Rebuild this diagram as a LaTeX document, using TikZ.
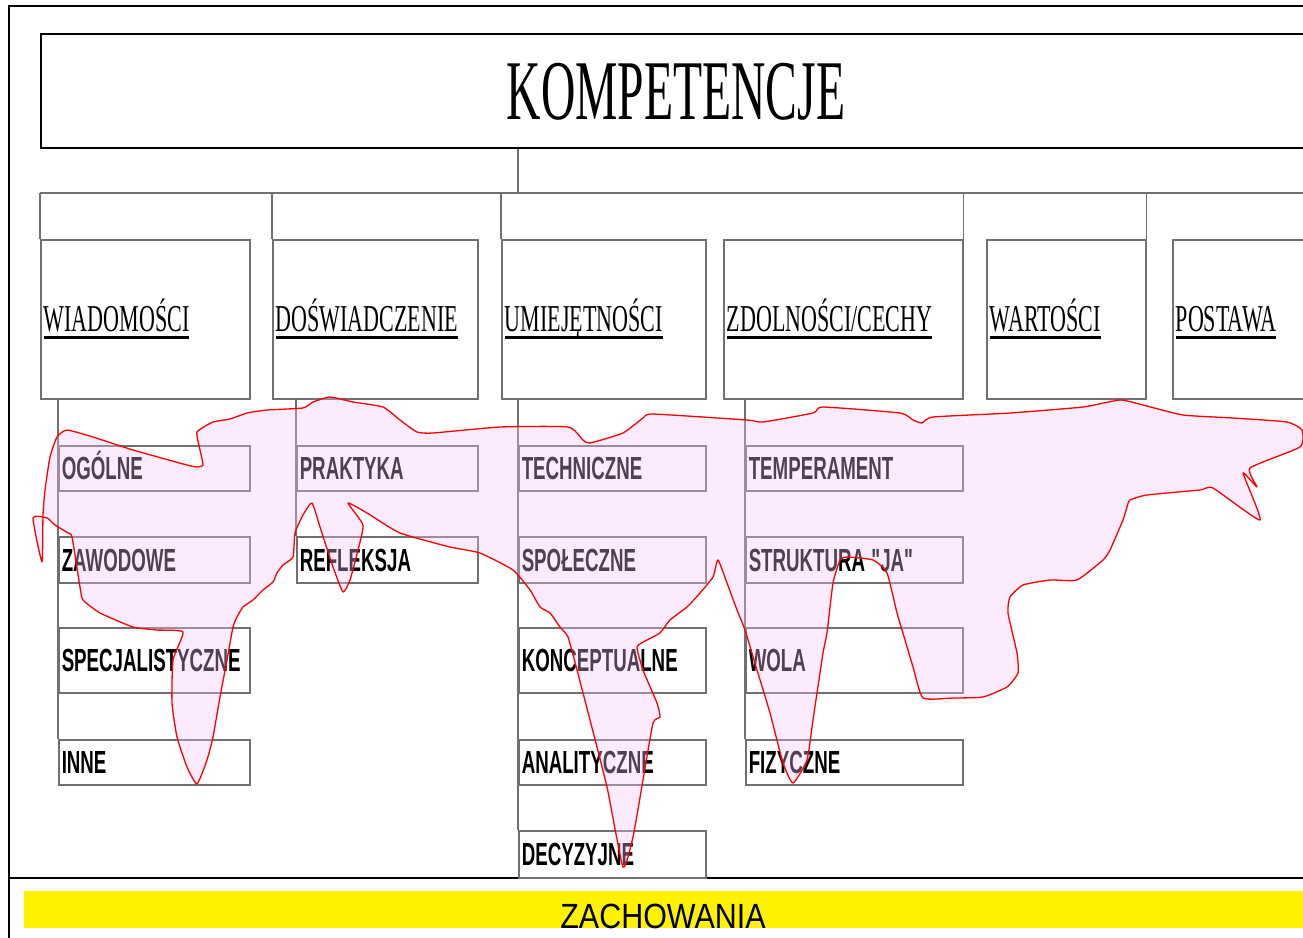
\documentclass[tikz,border=0pt]{standalone}
\usepackage{fontspec}
\usepackage{graphicx}
\setmainfont{Liberation Serif}
\newfontfamily\sansf{Liberation Sans}
\definecolor{boxgray}{RGB}{112,112,112}
\definecolor{blobfill}{RGB}{246,197,246}
\newsavebox\ulbox
\newcommand\hdtext[1]{\sbox\ulbox{#1}\rlap{\rule[-7.5pt]{\wd\ulbox}{3pt}}\usebox\ulbox}
\newcommand\hdn[1]{\scalebox{0.58}[1]{\hdtext{#1}}}
\newcommand\nar[1]{\scalebox{0.585}[1]{#1}}
\begin{document}
\begin{tikzpicture}[x=1pt,y=-1pt,
  conn/.style={draw=boxgray, line width=1.5pt},
  head/.style={draw=boxgray, line width=1.5pt, anchor=north west, inner sep=0pt, inner xsep=3pt,
    minimum height=159pt, align=left, text height=25pt, text depth=0pt,
    font=\fontsize{38}{40}\selectfont},
  sub/.style={draw=boxgray, line width=1.5pt, anchor=north west, inner sep=0pt, inner xsep=3pt,
    align=left, text height=23pt, text depth=0pt,
    font=\sansf\bfseries\fontsize{32}{34}\selectfont},
  blob/.style={draw=red, line width=1.3pt, fill=blobfill, fill opacity=0.33, line join=round}
]
\useasboundingbox (0,0) rectangle (1303,937);
\clip (0,0) rectangle (1303,937);
\fill[white] (0,0) rectangle (1303,937);

% outer frame
\draw[line width=2pt] (9,940) -- (9,6) -- (1310,6);
\draw[line width=2pt] (9,878) -- (1310,878);

% title
\node[draw=black, line width=2pt, anchor=north west, minimum width=1270pt, minimum height=114pt,
  inner sep=0pt, text height=56pt, text depth=0pt, font=\fontsize{85}{90}\selectfont]
  (title) at (40,33) {\scalebox{0.56}[1]{KOMPETENCJE}};

% headings
\node[head, text width=203pt] (wiad) at (40,239) {\hdn{WIADOMOŚCI}};
\node[head, text width=199pt] (dosw) at (272,239) {\hdn{DOŚWIADCZENIE}};
\node[head, text width=198pt] (umie) at (501,239) {\hdn{UMIEJĘTNOŚCI}};
\node[head, text width=233pt] (zdol) at (723,239) {\hdn{ZDOLNOŚCI/CECHY}};
\node[head, text width=153pt] (wart) at (986,239) {\hdn{WARTOŚCI}};
\node[head, text width=160pt] (post) at (1172,239) {\hdn{POSTAWA}};

% bus
\coordinate (busL) at (40,193);
\coordinate (busR) at (1310,193);
\coordinate (tc) at (518,193);
\draw[conn] (busL) -- (busR);
\draw[conn] (tc |- title.south) -- (tc);
\draw[conn] (wiad.north west) -- (wiad.north west |- busL);
\draw[conn] (dosw.north west) -- (dosw.north west |- busL);
\draw[conn] (umie.north west) -- (umie.north west |- busL);
\draw[conn] (zdol.north east) -- (zdol.north east |- busL);
\draw[conn] (wart.north east) -- (wart.north east |- busL);

% column 1
\node[sub, text width=185pt, minimum height=45pt] (ogol) at (58,445) {\nar{OGÓLNE}};
\node[sub, text width=185pt, minimum height=46pt] (zawo) at (58,536) {\nar{ZAWODOWE}};
\node[sub, text width=185pt, minimum height=65pt] (spec) at (58,627) {\nar{SPECJALISTYCZNE}};
\node[sub, text width=185pt, minimum height=45pt] (inne) at (58,739) {\nar{INNE}};
% column 2
\node[sub, text width=175pt, minimum height=45pt] (prak) at (296,445) {\nar{PRAKTYKA}};
\node[sub, text width=175pt, minimum height=46pt] (refl) at (296,536) {\nar{REFLEKSJA}};
% column 3
\node[sub, text width=181pt, minimum height=45pt] (tech) at (518,445) {\nar{TECHNICZNE}};
\node[sub, text width=181pt, minimum height=46pt] (spol) at (518,536) {\nar{SPOŁECZNE}};
\node[sub, text width=181pt, minimum height=65pt] (konc) at (518,627) {\nar{KONCEPTUALNE}};
\node[sub, text width=181pt, minimum height=45pt] (anal) at (518,739) {\nar{ANALITYCZNE}};
\node[sub, text width=181pt, minimum height=47pt] (decy) at (518,830) {\nar{DECYZYJNE}};
% column 4
\node[sub, text width=211pt, minimum height=45pt] (temp) at (745,445) {\nar{TEMPERAMENT}};
\node[sub, text width=211pt, minimum height=46pt] (stru) at (745,536) {\nar{STRUKTURA "JA"}};
\node[sub, text width=211pt, minimum height=65pt] (wola) at (745,627) {\nar{WOLA}};
\node[sub, text width=211pt, minimum height=45pt] (fizy) at (745,739) {\nar{FIZYCZNE}};

% column connectors
\draw[conn] (wiad.south -| ogol.west) -- (inne.north west);
\draw[conn] (dosw.south -| prak.west) -- (refl.north west);
\draw[conn] (umie.south -| tech.west) -- (decy.north west);
\draw[conn] (zdol.south -| temp.west) -- (fizy.north west);

% freehand highlight
\draw[blob] plot[smooth cycle, tension=0.3] coordinates {
(50,457) (57,437) (67,430) (93,437) (133,450) (187,465) (197,467) (203,465) (200,450) (197,432)
(213,422) (230,419) (247,413) (267,410) (303,408) (313,402) (330,397) (353,402) (383,407) (400,420)
(417,432) (433,433) (500,427) (568,427) (583,440) (590,443) (623,433) (643,418) (653,414) (747,420)
(763,422) (813,413) (823,407) (900,413) (913,420) (922,423) (933,417) (1010,413) (1083,407) (1120,400)
(1143,405) (1183,415) (1233,418) (1287,422) (1302,430) (1300,447) (1250,468) (1257,487) (1243,473) (1260,520)
(1213,488) (1200,490) (1147,495) (1130,500) (1127,507) (1123,520) (1110,550) (1103,560) (1077,580) (1050,580)
(1023,585) (1010,597) (1008,613) (1017,653) (1018,673) (1007,687) (983,697) (953,698) (923,698) (913,667)
(905,640) (897,613) (887,573) (873,560) (847,557) (840,560) (833,583) (827,633) (823,653) (813,720)
(807,760) (793,783) (783,763) (770,713) (757,670) (745,630) (737,610) (727,583) (718,560) (713,577)
(700,593) (687,607) (670,620) (660,633) (647,640) (637,647) (643,670) (657,703) (660,717) (653,723)
(643,780) (633,837) (623,867) (607,787) (590,720) (577,670) (568,637) (560,627) (550,613) (540,607)
(530,590) (513,570) (480,553) (450,547) (400,533) (367,513) (348,503) (363,525) (358,550) (350,580)
(343,592) (333,567) (320,527) (312,503) (303,515) (295,533) (293,557) (283,565) (277,573) (273,582)
(263,590) (253,600) (243,607) (237,617) (233,627) (227,660) (220,697) (213,737) (207,760) (197,784)
(187,767) (177,737) (172,703) (173,660) (183,632) (157,630) (133,627) (100,613) (83,600) (80,587)
(72,537) (68,533) (55,525) (47,518) (33,518) (42,562) (43,515) (45,490)};

% bottom band
\fill[yellow] (24,891) rectangle (1310,928);
\node[font=\sansf\fontsize{35}{36}\selectfont, anchor=base, inner sep=0pt] (zach) at (663,928)
  {\scalebox{0.87}[1]{ZACHOWANIA}};
\end{tikzpicture}
\end{document}
